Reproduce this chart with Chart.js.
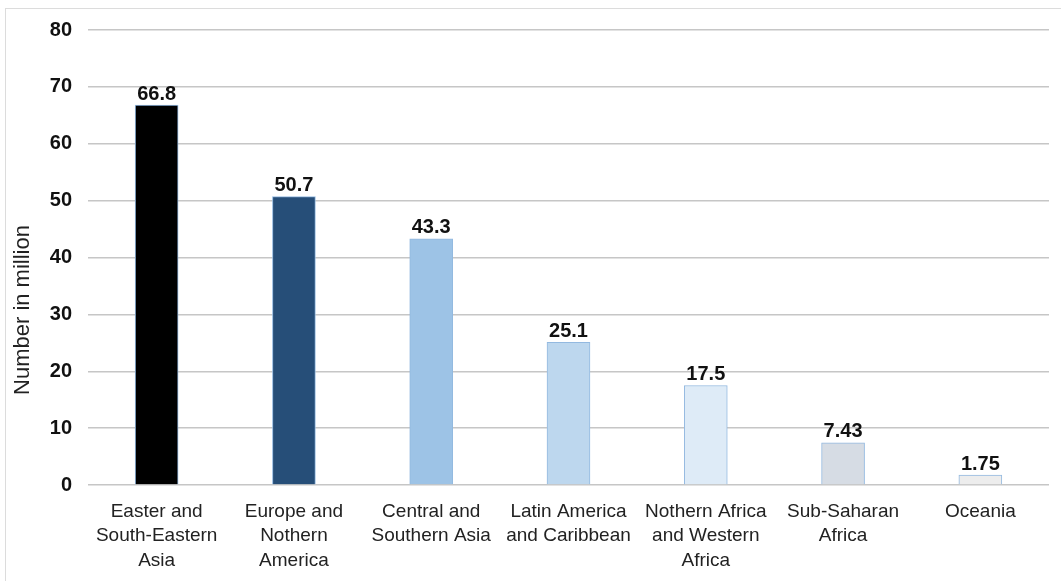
<!DOCTYPE html>
<html>
<head>
<meta charset="utf-8">
<script src="https://cdn.jsdelivr.net/npm/chart.js@4"></script>
<style>
  html, body { margin: 0; padding: 0; background: #fff; }
  #wrap { position: relative; width: 1061px; height: 581px; }
  #frame { position: absolute; left: 5px; top: 8px; right: 0; bottom: 0;
           border-top: 1px solid #dcdcdc; border-left: 1px solid #dcdcdc; }
  canvas { position: absolute; left: 0; top: 0; }
</style>
</head>
<body>
<div id="wrap">
  <div id="frame"></div>
  <canvas id="regionChart" width="1061" height="581"></canvas>
</div>
<script>
const regions = [
  ['Easter and', 'South-Eastern', 'Asia'],
  ['Europe and', 'Nothern', 'America'],
  ['Central and', 'Southern Asia'],
  ['Latin America', 'and Caribbean'],
  ['Nothern Africa', 'and Western', 'Africa'],
  ['Sub-Saharan', 'Africa'],
  ['Oceania']
];
const counts = [66.8, 50.7, 43.3, 25.1, 17.5, 7.43, 1.75];
const barColors = ['#000000', '#264e78', '#9dc3e6', '#bdd7ee', '#deebf7', '#d6dce4', '#ededed'];
const yTicks = [0, 10, 20, 30, 40, 50, 60, 70, 80];
const yTitle = 'Number in million';

const fontFamily = '"Liberation Sans", Arial, sans-serif';

// value printed above each bar, plus the rotated axis title
const barLabels = {
  id: 'barLabels',
  afterDatasetsDraw(chart) {
    const c = chart.ctx;
    const meta = chart.getDatasetMeta(0);
    c.save();
    c.font = 'bold 20px ' + fontFamily;
    c.fillStyle = '#111';
    c.textAlign = 'center';
    c.textBaseline = 'bottom';
    meta.data.forEach((bar, i) => {
      c.fillText(String(counts[i]), bar.x, bar.y - 1);
    });
    c.restore();

    c.save();
    c.translate(23, 310);
    c.rotate(-Math.PI / 2);
    c.font = '22px ' + fontFamily;
    c.fillStyle = '#222';
    c.textAlign = 'center';
    c.textBaseline = 'middle';
    c.fillText(yTitle, 0, 0);
    c.restore();
  }
};

const ctx = document.getElementById('regionChart').getContext('2d');
const chart = new Chart(ctx, {
  type: 'bar',
  data: {
    labels: regions,
    datasets: [{
      data: counts,
      backgroundColor: barColors,
      borderColor: '#93b9e0',
      borderWidth: 1,
      barThickness: 43
    }]
  },
  options: {
    responsive: false,
    animation: false,
    layout: { padding: { top: 30, right: 12, bottom: 0, left: 0 } },
    plugins: {
      legend: { display: false },
      tooltip: { enabled: false }
    },
    scales: {
      x: {
        grid: { display: false, drawTicks: false },
        border: { display: false },
        ticks: {
          color: '#222',
          font: { family: fontFamily, size: 19, lineHeight: 1.3 },
          padding: 14,
          maxRotation: 0,
          autoSkip: false
        },
        afterFit(scale) { scale.height = 96; }
      },
      y: {
        min: 0,
        max: 80,
        afterBuildTicks(scale) { scale.ticks = yTicks.map(v => ({ value: v })); },
        grid: { color: '#c6c6c6', lineWidth: 1.5, drawTicks: false },
        border: { display: false },
        ticks: {
          color: '#111',
          font: { family: fontFamily, size: 20, weight: 'bold' },
          padding: 16
        },
        afterFit(scale) { scale.width = 88; }
      }
    }
  },
  plugins: [barLabels]
});
</script>
</body>
</html>
